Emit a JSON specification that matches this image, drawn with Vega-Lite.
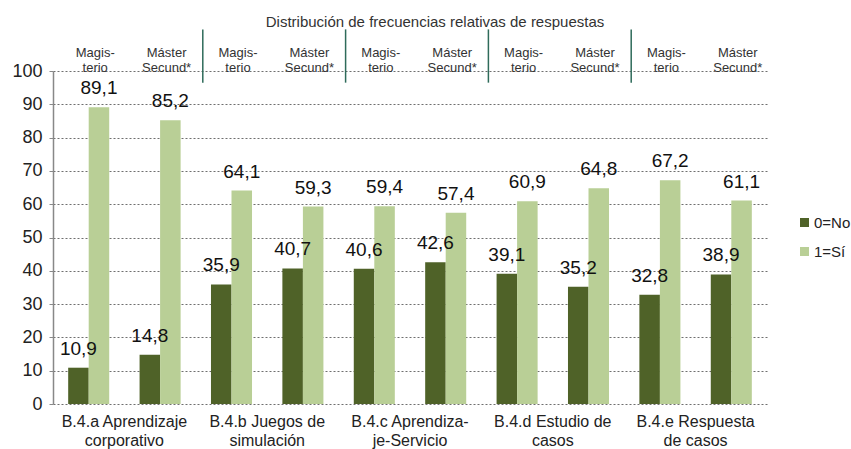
{
  "$schema": "https://vega.github.io/schema/vega-lite/v6.json",
  "width": 714,
  "height": 333,
  "autosize": {"type": "none"},
  "padding": {"left": 53, "top": 71, "right": 84, "bottom": 45},
  "background": "white",
  "title": {
    "text": "Distribución de frecuencias relativas de respuestas",
    "fontSize": 15,
    "fontWeight": "normal",
    "color": "#333333",
    "anchor": "middle",
    "dx": 25,
    "offset": -1
  },
  "datasets": {
    "valores": [
      {"sub": "B.4.a Aprendizaje|corporativo~Magis-|terio", "respuesta": "0=No", "valor": 10.9},
      {"sub": "B.4.a Aprendizaje|corporativo~Magis-|terio", "respuesta": "1=Sí", "valor": 89.1},
      {"sub": "B.4.a Aprendizaje|corporativo~Máster|Secund*", "respuesta": "0=No", "valor": 14.8},
      {"sub": "B.4.a Aprendizaje|corporativo~Máster|Secund*", "respuesta": "1=Sí", "valor": 85.2},
      {"sub": "B.4.b Juegos de|simulación~Magis-|terio", "respuesta": "0=No", "valor": 35.9},
      {"sub": "B.4.b Juegos de|simulación~Magis-|terio", "respuesta": "1=Sí", "valor": 64.1},
      {"sub": "B.4.b Juegos de|simulación~Máster|Secund*", "respuesta": "0=No", "valor": 40.7},
      {"sub": "B.4.b Juegos de|simulación~Máster|Secund*", "respuesta": "1=Sí", "valor": 59.3},
      {"sub": "B.4.c Aprendiza-|je-Servicio~Magis-|terio", "respuesta": "0=No", "valor": 40.6},
      {"sub": "B.4.c Aprendiza-|je-Servicio~Magis-|terio", "respuesta": "1=Sí", "valor": 59.4},
      {"sub": "B.4.c Aprendiza-|je-Servicio~Máster|Secund*", "respuesta": "0=No", "valor": 42.6},
      {"sub": "B.4.c Aprendiza-|je-Servicio~Máster|Secund*", "respuesta": "1=Sí", "valor": 57.4},
      {"sub": "B.4.d Estudio de|casos~Magis-|terio", "respuesta": "0=No", "valor": 39.1},
      {"sub": "B.4.d Estudio de|casos~Magis-|terio", "respuesta": "1=Sí", "valor": 60.9},
      {"sub": "B.4.d Estudio de|casos~Máster|Secund*", "respuesta": "0=No", "valor": 35.2},
      {"sub": "B.4.d Estudio de|casos~Máster|Secund*", "respuesta": "1=Sí", "valor": 64.8},
      {"sub": "B.4.e Respuesta|de casos~Magis-|terio", "respuesta": "0=No", "valor": 32.8},
      {"sub": "B.4.e Respuesta|de casos~Magis-|terio", "respuesta": "1=Sí", "valor": 67.2},
      {"sub": "B.4.e Respuesta|de casos~Máster|Secund*", "respuesta": "0=No", "valor": 38.9},
      {"sub": "B.4.e Respuesta|de casos~Máster|Secund*", "respuesta": "1=Sí", "valor": 61.1}
    ],
    "separadores": [
      {"sub": "B.4.a Aprendizaje|corporativo~Máster|Secund*"},
      {"sub": "B.4.b Juegos de|simulación~Máster|Secund*"},
      {"sub": "B.4.c Aprendiza-|je-Servicio~Máster|Secund*"},
      {"sub": "B.4.d Estudio de|casos~Máster|Secund*"}
    ]
  },
  "layer": [
    {
      "data": {"name": "valores"},
      "mark": {"type": "bar"},
      "encoding": {
        "x": {
          "field": "sub",
          "type": "nominal",
          "scale": {"paddingInner": 0, "paddingOuter": 0},
          "axis": {
            "orient": "bottom",
            "title": null,
            "domain": false,
            "ticks": false,
            "tickSize": 0,
            "grid": false,
            "labelAngle": 0,
            "labelOffset": 35.7,
            "labelPadding": 9,
            "labelFontSize": 16,
            "labelLineHeight": 19,
            "labelColor": "#222222",
            "labelOverlap": false,
            "labelBound": false,
            "labelBaseline": "top",
            "labelExpr": "indexof(datum.value, 'Magis') > 0 ? split(split(datum.value, '~')[0], '|') : ''"
          }
        },
        "xOffset": {
          "field": "respuesta",
          "type": "nominal",
          "scale": {"paddingInner": 0, "paddingOuter": 0.74}
        },
        "y": {
          "field": "valor",
          "type": "quantitative",
          "scale": {"domain": [0, 100], "nice": false},
          "axis": {
            "title": null,
            "values": [0, 10, 20, 30, 40, 50, 60, 70, 80, 90, 100],
            "labelFontSize": 18,
            "labelColor": "#222222",
            "labelPadding": 7,
            "tickSize": 4,
            "tickColor": "#888888",
            "domainColor": "#888888",
            "domainWidth": 1.5,
            "grid": true,
            "gridColor": "#6f6f6f",
            "gridDash": [2, 2],
            "gridWidth": 1
          }
        },
        "color": {
          "field": "respuesta",
          "type": "nominal",
          "scale": {"domain": ["0=No", "1=Sí"], "range": ["#4F6228", "#B9CF96"]},
          "legend": {
            "title": null,
            "orient": "none",
            "legendX": 744,
            "legendY": 144,
            "symbolType": "square",
            "symbolSize": 81,
            "symbolStrokeWidth": 0,
            "labelFontSize": 15,
            "labelColor": "#222222",
            "labelOffset": 2,
            "rowPadding": 13
          }
        }
      }
    },
    {
      "data": {"name": "valores"},
      "mark": {"type": "text", "baseline": "bottom", "dy": -9, "fontSize": 19, "color": "#111111"},
      "encoding": {
        "x": {"field": "sub", "type": "nominal", "axis": null},
        "xOffset": {"field": "respuesta", "type": "nominal"},
        "y": {
          "field": "valor",
          "type": "quantitative",
          "axis": {
            "title": null,
            "values": [0, 10, 20, 30, 40, 50, 60, 70, 80, 90, 100],
            "labelFontSize": 18,
            "labelColor": "#222222",
            "labelPadding": 7,
            "tickSize": 4,
            "tickColor": "#888888",
            "domainColor": "#888888",
            "domainWidth": 1.5,
            "grid": true,
            "gridColor": "#6f6f6f",
            "gridDash": [2, 2],
            "gridWidth": 1
          }
        },
        "text": {"field": "valor", "type": "quantitative", "format": ".1f"}
      }
    },
    {
      "data": {"name": "separadores"},
      "mark": {"type": "rule", "color": "#2E6B5A", "strokeWidth": 1.5, "xOffset": 7},
      "encoding": {
        "x": {
          "field": "sub",
          "type": "nominal",
          "bandPosition": 1,
          "axis": {
            "orient": "top",
            "title": null,
            "domain": false,
            "ticks": false,
            "tickSize": 0,
            "grid": false,
            "labelAngle": 0,
            "labelOffset": 6.5,
            "labelPadding": 25,
            "labelBaseline": "top",
            "labelFontSize": 13,
            "labelLineHeight": 15,
            "labelColor": "#333333",
            "labelOverlap": false,
            "labelBound": false,
            "labelExpr": "split(split(datum.value, '~')[1], '|')"
          }
        },
        "y": {
          "datum": 112.5,
          "axis": {
            "title": null,
            "values": [0, 10, 20, 30, 40, 50, 60, 70, 80, 90, 100],
            "labelFontSize": 18,
            "labelColor": "#222222",
            "labelPadding": 7,
            "tickSize": 4,
            "tickColor": "#888888",
            "domainColor": "#888888",
            "domainWidth": 1.5,
            "grid": true,
            "gridColor": "#6f6f6f",
            "gridDash": [2, 2],
            "gridWidth": 1
          }
        },
        "y2": {"datum": 96.5}
      }
    }
  ],
  "resolve": {"axis": {"x": "independent"}},
  "config": {
    "font": "Liberation Sans",
    "view": {"stroke": null},
    "axisY": {"gridDash": [2, 2], "gridColor": "#6f6f6f"},
    "locale": {
      "number": {"decimal": ",", "thousands": ".", "grouping": [3], "currency": ["", " €"]}
    }
  }
}
